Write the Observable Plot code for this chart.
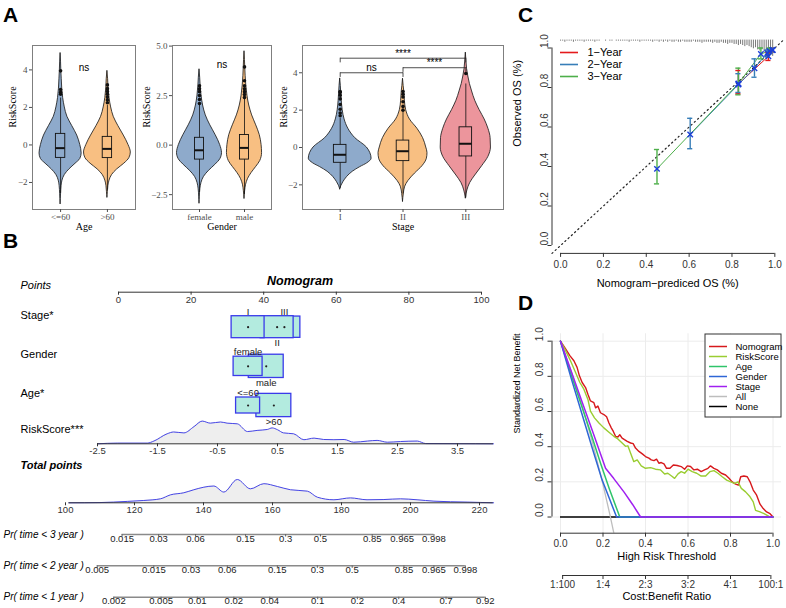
<!DOCTYPE html>
<html><head><meta charset="utf-8">
<script src="https://cdn.jsdelivr.net/npm/d3@7"></script>
<script src="https://cdn.jsdelivr.net/npm/@observablehq/plot@0.6"></script>
<style>
html,body{margin:0;padding:0;background:#fff;}
#fig{position:relative;width:786px;height:608px;overflow:hidden;background:#fff;font-family:"Liberation Sans",Arial,sans-serif;}
.tag{position:absolute;font:bold 21px/21px "Liberation Sans",Arial,sans-serif;color:#000;}
</style></head>
<body><div id="fig"></div>
<script>
// ---------- Panel A: RiskScore by clinical group ----------
const ageLevels = ["<=60", ">60"];
const genderLevels = ["female", "male"];
const stageLevels = ["I", "II", "III"];
const groupColors = ["#8eaacb", "#f8bf82", "#ec959c"];

// violin outlines: [RiskScore, relative density]
const ageShapes = {
  "<=60": [[4.9,0],[4.4,0.02],[4.0,0.03],[3.5,0.05],[3.0,0.07],[2.5,0.11],[2.0,0.18],[1.5,0.29],[1.0,0.50],[0.5,0.71],[0.0,0.84],[-0.45,0.90],[-0.75,0.84],[-1.0,0.64],[-1.3,0.38],[-1.6,0.18],[-1.9,0.08],[-2.2,0.04],[-2.6,0.02],[-3.15,0]],
  ">60": [[3.95,0],[3.5,0.03],[3.0,0.05],[2.5,0.09],[2.0,0.16],[1.5,0.27],[1.0,0.47],[0.5,0.70],[0.0,0.90],[-0.4,1.0],[-0.7,0.94],[-1.0,0.72],[-1.3,0.42],[-1.6,0.20],[-1.9,0.09],[-2.2,0.04],[-2.5,0.02],[-2.8,0]]
};
const genderShapes = {
  "female": [[3.83,0],[3.4,0.03],[3.0,0.05],[2.5,0.09],[2.0,0.16],[1.5,0.28],[1.0,0.48],[0.5,0.72],[0.0,0.92],[-0.4,1.0],[-0.7,0.93],[-1.0,0.70],[-1.3,0.42],[-1.6,0.20],[-1.9,0.09],[-2.2,0.04],[-2.6,0.015],[-2.94,0]],
  "male": [[4.74,0],[4.3,0.02],[4.0,0.03],[3.5,0.05],[3.0,0.08],[2.5,0.13],[2.0,0.21],[1.5,0.34],[1.0,0.52],[0.5,0.68],[0.0,0.76],[-0.4,0.78],[-0.8,0.70],[-1.1,0.52],[-1.4,0.32],[-1.7,0.16],[-2.0,0.07],[-2.3,0.03],[-2.7,0]]
};
const stageShapes = {
  "I": [[3.7,0],[3.3,0.02],[3.0,0.03],[2.5,0.05],[2.0,0.08],[1.5,0.14],[1.0,0.26],[0.5,0.48],[0.0,0.85],[-0.3,0.96],[-0.6,1.0],[-0.85,0.86],[-1.05,0.64],[-1.3,0.40],[-1.58,0.22],[-1.86,0.10],[-2.05,0.04],[-2.24,0]],
  "II": [[3.68,0],[3.3,0.02],[3.0,0.04],[2.5,0.06],[2.0,0.10],[1.5,0.22],[1.0,0.46],[0.5,0.64],[0.0,0.74],[-0.3,0.78],[-0.6,0.76],[-1.0,0.62],[-1.4,0.38],[-1.8,0.17],[-2.1,0.07],[-2.5,0.025],[-2.9,0]],
  "III": [[5.08,0],[4.6,0.02],[4.2,0.04],[3.8,0.08],[3.4,0.13],[3.0,0.20],[2.5,0.30],[2.0,0.44],[1.5,0.60],[1.0,0.72],[0.5,0.79],[0.0,0.80],[-0.5,0.72],[-1.0,0.52],[-1.5,0.30],[-1.9,0.14],[-2.3,0.05],[-2.72,0]]
};
const ageBoxes = [
  {level: "<=60", low: -2.6, q1: -0.69, median: -0.17, q3: 0.59, high: 2.5},
  {level: ">60", low: -2.4, q1: -0.70, median: -0.21, q3: 0.43, high: 2.1}
];
const genderBoxes = [
  {level: "female", low: -2.4, q1: -0.73, median: -0.26, q3: 0.37, high: 2.0},
  {level: "male", low: -2.5, q1: -0.73, median: -0.14, q3: 0.51, high: 2.3}
];
const stageBoxes = [
  {level: "I", low: -2.2, q1: -0.82, median: -0.39, q3: 0.14, high: 1.55},
  {level: "II", low: -2.5, q1: -0.73, median: -0.20, q3: 0.37, high: 1.9},
  {level: "III", low: -2.7, q1: -0.48, median: 0.20, q3: 1.08, high: 3.4}
];
const ageOutliers = {"<=60": [2.7, 2.8, 2.95, 3.95], ">60": [2.25, 2.4, 2.55, 2.7, 2.85, 3.0, 3.2]};
const genderOutliers = {"female": [2.1, 2.3, 2.5, 2.7, 2.85, 3.0], "male": [2.4, 2.55, 2.7, 2.85, 3.0, 3.25, 3.95]};
const stageOutliers = {"I": [1.7, 1.85, 2.05, 2.3, 2.6, 2.8, 2.95, 3.0], "II": [2.0, 2.2, 2.45, 2.7, 2.85, 3.0], "III": [3.96]};
const ageTest = [{label: "ns", y: 4.1}];
const genderTest = [{label: "ns", y: 4.08}];
const stageTests = [
  {from: "I", to: "II", y: 4.0, label: "ns"},
  {from: "II", to: "III", y: 4.27, label: "****"},
  {from: "I", to: "III", y: 4.78, label: "****"}
];

// ---------- Panel B: nomogram ----------
const pointTicks = [0, 20, 40, 60, 80, 100];
const nomoFactors = ["Stage*", "Gender", "Age*"];
// [factor, level, points, patients]
const nomoLevels = [
  ["Stage*", "I", 35.7, 330], ["Stage*", "II", 43.7, 330], ["Stage*", "III", 45.7, 310],
  ["Gender", "female", 35.7, 255], ["Gender", "male", 40.7, 370],
  ["Age*", "<=60", 35.7, 175], ["Age*", ">60", 42.8, 370]
];
const riskTicks = [-2.5, -1.5, -0.5, 0.5, 1.5, 2.5, 3.5];
const riskRange = [-2.5, 4.1];
// [RiskScore, relative density]
const riskDensity = [[-2.5,0],[-2.17,3],[-1.67,3],[-1.56,12],[-1.34,44],[-1.23,52],[-1.06,48],[-0.89,76],[-0.755,100],[-0.62,91],[-0.45,96],[-0.34,91],[-0.17,88],[0,54],[0.16,59],[0.33,63],[0.41,70],[0.5,62],[0.6,48],[0.77,44],[0.94,18],[1.11,25],[1.27,19],[1.44,18],[1.61,19],[1.77,7],[2.0,12],[2.16,15],[2.33,7],[2.55,10],[2.83,12],[2.97,1],[3.5,0.5],[4.1,0]];
const totalTicks = [100, 120, 140, 160, 180, 200, 220];
const totalRange = [101, 224];
// [total points, relative density]
const totalDensity = [[101,0],[110,1],[117.9,6],[122.7,10],[127.5,17],[130.4,34],[134.3,43],[137.2,56],[140.1,67],[143,72],[145.9,46],[149.8,100],[153.6,60],[157.5,82],[161.4,70],[165.2,56],[170.1,50],[173,24],[177.8,13],[182.6,21],[187.4,13],[192.3,14],[197.1,17],[201.9,13],[206.8,7],[216.4,3],[224.1,0]];
const survivalRows = ["Pr( time < 3 year )", "Pr( time < 2 year )", "Pr( time < 1 year )"];
// [probability, total points]
const pr3Year = [[0.015,116.4],[0.03,127.0],[0.06,137.7],[0.15,152.2],[0.3,163.8],[0.5,173.9],[0.85,188.9],[0.965,197.6],[0.998,206.8]];
const pr2Year = [[0.005,109.2],[0.015,125.6],[0.03,136.4],[0.06,146.9],[0.15,161.4],[0.3,173.0],[0.5,183.1],[0.85,198.1],[0.965,206.8],[0.998,215.9]];
const pr1Year = [[0.002,114.0],[0.005,127.7],[0.01,138.2],[0.02,148.8],[0.04,159.2],[0.1,173.1],[0.2,184.6],[0.4,196.6],[0.7,210.3],[0.92,221.7]];

// ---------- Panel C: calibration ----------
const calTicks = [0, 0.2, 0.4, 0.6, 0.8, 1.0];
const calYears = ["1\u2212Year", "2\u2212Year", "3\u2212Year"];
const calColors = ["#e41a1c", "#377eb8", "#4daf4a"];
// [predicted, observed, lower, upper]
const cal1Year = [[0.83,0.818,0.768,0.886],[0.97,0.958,0.937,0.976],[0.99,0.99,0.98,1.0]];
const cal2Year = [[0.605,0.562,0.49,0.644],[0.83,0.815,0.775,0.87],[0.905,0.898,0.852,0.945],[0.965,0.975,0.955,0.99],[0.99,0.99,0.98,1.0]];
const cal3Year = [[0.45,0.388,0.312,0.486],[0.83,0.82,0.763,0.898],[0.935,0.97,0.945,1.0],[0.975,0.985,0.97,1.0]];
// patients per 0.01 bin of predicted survival, from 0.00 to 0.99
const predCounts = [1,1,2,1,1,1,2,1,1,1, 1,2,1,1,1,1,2,1,1,0, 0,1,0,1,1,0,1,1,1,1, 1,1,2,1,1,1,1,2,1,1,
  1,1,1,2,1,1,2,1,2,1, 2,1,2,2,1,2,2,1,2,2, 2,2,1,2,2,2,3,2,2,2, 2,3,2,3,3,2,3,3,4,3,
  3,4,4,5,4,5,6,5,6,7, 8,7,9,10,9,11,12,13,14,15];

// ---------- Panel D: decision curves ----------
const dcaModels = ["Nomogram", "RiskScore", "Age", "Gender", "Stage", "All", "None"];
const dcaColors = ["#d7191c", "#9acd32", "#2fc46a", "#2f66d6", "#a020f0", "#bdbdbd", "#000000"];
const nbTicks = [0, 0.2, 0.4, 0.6, 0.8, 1.0];
// [threshold, standardized net benefit]
const nbNomogram = [[0,1],[0.024,0.956],[0.044,0.918],[0.063,0.889],[0.078,0.851],[0.089,0.803],[0.102,0.765],[0.118,0.736],[0.129,0.698],[0.141,0.66],[0.157,0.65],[0.165,0.621],[0.176,0.631],[0.188,0.593],[0.204,0.583],[0.217,0.57],[0.228,0.535],[0.239,0.507],[0.248,0.488],[0.259,0.459],[0.27,0.455],[0.279,0.468],[0.29,0.449],[0.301,0.44],[0.314,0.43],[0.33,0.421],[0.342,0.417],[0.353,0.392],[0.369,0.373],[0.385,0.359],[0.4,0.344],[0.416,0.335],[0.427,0.325],[0.44,0.321],[0.452,0.329],[0.463,0.306],[0.474,0.31],[0.487,0.302],[0.499,0.277],[0.515,0.277],[0.531,0.296],[0.549,0.293],[0.568,0.287],[0.584,0.272],[0.597,0.291],[0.612,0.287],[0.628,0.268],[0.644,0.272],[0.662,0.258],[0.678,0.268],[0.694,0.277],[0.706,0.291],[0.722,0.277],[0.738,0.268],[0.757,0.249],[0.777,0.239],[0.793,0.22],[0.808,0.2],[0.824,0.187],[0.837,0.182],[0.848,0.229],[0.863,0.233],[0.879,0.229],[0.892,0.2],[0.907,0.153],[0.923,0.124],[0.939,0.073],[0.954,0.048],[0.97,0.029],[0.986,0.019],[1.0,0]];
const nbRiskScore = [[0,1],[0.024,0.946],[0.047,0.889],[0.071,0.822],[0.091,0.765],[0.11,0.727],[0.129,0.669],[0.141,0.602],[0.16,0.564],[0.181,0.535],[0.204,0.507],[0.228,0.482],[0.251,0.459],[0.27,0.444],[0.29,0.421],[0.306,0.402],[0.317,0.405],[0.33,0.363],[0.345,0.315],[0.361,0.325],[0.38,0.291],[0.4,0.277],[0.424,0.281],[0.447,0.272],[0.471,0.268],[0.49,0.245],[0.505,0.249],[0.521,0.235],[0.537,0.22],[0.553,0.245],[0.568,0.258],[0.584,0.249],[0.6,0.272],[0.62,0.258],[0.641,0.249],[0.662,0.233],[0.683,0.233],[0.703,0.258],[0.722,0.264],[0.741,0.249],[0.761,0.229],[0.782,0.21],[0.801,0.2],[0.819,0.191],[0.835,0.2],[0.851,0.163],[0.871,0.143],[0.892,0.115],[0.907,0.086],[0.918,0.038],[0.939,0.029],[0.958,0.019],[0.981,0.004],[1.0,0]];
const nbAge = [[0,1],[0.05,0.81],[0.1,0.63],[0.15,0.45],[0.19,0.30],[0.23,0.16],[0.279,0],[1.0,0]];
const nbGender = [[0,1],[0.05,0.79],[0.1,0.59],[0.15,0.39],[0.196,0.21],[0.23,0.105],[0.264,0],[1.0,0]];
const nbStage = [[0,1],[0.05,0.83],[0.1,0.66],[0.15,0.49],[0.212,0.277],[0.25,0.22],[0.3,0.14],[0.34,0.07],[0.377,0],[1.0,0]];
const nbAll = [[0,1],[0.05,0.829],[0.1,0.638],[0.15,0.426],[0.2,0.186],[0.235,0],[0.26,-0.143]];
const ratioTicks = [0.01, 0.2, 0.4, 0.6, 0.8, 0.99];
const ratioLabels = ["1:100", "1:4", "2:3", "3:2", "4:1", "100:1"];

// ---------- layout helpers ----------
const SANS = "Liberation Sans, Arial, sans-serif";
const SERIF = "Liberation Serif, Times New Roman, serif";
const fig = document.getElementById("fig");
const base = {background: "transparent", overflow: "visible"};
function place(node, left, top) {
  node.style.position = "absolute";
  node.style.left = left + "px";
  node.style.top = top + "px";
  fig.appendChild(node);
}
function tag(letter, left, top) {
  const d = document.createElement("div");
  d.className = "tag";
  d.textContent = letter;
  d.style.left = left + "px";
  d.style.top = top + "px";
  fig.appendChild(d);
}

// ---------- violin + box panels ----------
function violinPanel({levels, shapes, boxes, outliers, yDomain, yTicks, yFormat, xTitle, titleDx, width, marginRight, extra}) {
  const pos = (l) => levels.indexOf(l) + 1;
  const shape = Object.entries(shapes)
    .flatMap(([level, pts]) => pts.map(([v, d]) => ({level, v, d})))
    .sort((a, b) => d3.ascending(pos(a.level), pos(b.level)) || d3.ascending(a.v, b.v));
  const dots = Object.entries(outliers).flatMap(([level, vs]) => vs.map((v) => ({level, v})));
  return Plot.plot({
    width, height: 200, marginLeft: 32, marginRight, marginTop: 10, marginBottom: 26,
    style: {...base, fontFamily: SERIF, fontSize: "9px"},
    x: {domain: [0.4, levels.length + 0.6], axis: null},
    y: {domain: yDomain, axis: null},
    color: {domain: levels, range: groupColors.slice(0, levels.length)},
    marks: [
      Plot.areaX(shape, {y: "v", x1: (d) => pos(d.level) - 0.5 * d.d, x2: (d) => pos(d.level) + 0.5 * d.d,
        z: "level", fill: "level", stroke: "#111", strokeWidth: 0.8, curve: "monotone-y"}),
      Plot.ruleX(boxes, {x: (b) => pos(b.level), y1: "low", y2: "high", stroke: "#111", strokeWidth: 0.8}),
      Plot.rect(boxes, {x1: (b) => pos(b.level) - 0.1, x2: (b) => pos(b.level) + 0.1, y1: "q1", y2: "q3",
        fill: "level", stroke: "#111", strokeWidth: 0.9}),
      Plot.ruleY(boxes, {y: "median", x1: (b) => pos(b.level) - 0.1, x2: (b) => pos(b.level) + 0.1, stroke: "#111", strokeWidth: 2}),
      Plot.dot(dots, {x: (d) => pos(d.level), y: "v", r: 1.8, fill: "#111"}),
      ...extra(pos),
      Plot.frame({stroke: "#7f7f7f"}),
      Plot.axisX({ticks: levels.map((_, i) => i + 1), tickFormat: (i) => levels[i - 1], tickSize: 3, tickPadding: 1.5,
        color: "#4d4d4d", fontSize: 9, fontFamily: SERIF, label: null}),
      Plot.axisY({ticks: yTicks, tickFormat: yFormat, tickSize: 3, tickPadding: 2,
        color: "#4d4d4d", fontSize: 9, fontFamily: SERIF, label: null}),
      Plot.text([xTitle], {frameAnchor: "bottom", dy: 20.5, fontSize: 10, fontFamily: SERIF}),
      Plot.text(["RiskScore"], {frameAnchor: "left", rotate: -90, dx: titleDx, fontSize: 10, fontFamily: SERIF})
    ]
  });
}
const nsLabel = (tests) => () => [
  Plot.text(tests, {x: 1.5, y: "y", text: "label", fontFamily: SANS, fontSize: 10})
];

place(violinPanel({
  levels: ageLevels, shapes: ageShapes, boxes: ageBoxes, outliers: ageOutliers,
  yDomain: [-3.44, 5.3], yTicks: [-2, 0, 2, 4], yFormat: undefined, xTitle: "Age",
  titleDx: -19.7, width: 140, marginRight: 5, extra: nsLabel(ageTest)
}), 0, 35);

place(violinPanel({
  levels: genderLevels, shapes: genderShapes, boxes: genderBoxes, outliers: genderOutliers,
  yDomain: [-3.25, 5.03], yTicks: [-2.5, 0, 2.5, 5], yFormat: d3.format(".1f"), xTitle: "Gender",
  titleDx: -25.3, width: 135, marginRight: 4, extra: nsLabel(genderTest)
}), 140, 35);

place(violinPanel({
  levels: stageLevels, shapes: stageShapes, boxes: stageBoxes, outliers: stageOutliers,
  yDomain: [-3.32, 5.46], yTicks: [-2, 0, 2, 4], yFormat: undefined, xTitle: "Stage",
  titleDx: -18.7, width: 240, marginRight: 7,
  extra: (pos) => {
    const tips = stageTests.flatMap((t) => [{x: pos(t.from), y: t.y}, {x: pos(t.to), y: t.y}]);
    return [
      Plot.link(stageTests, {x1: (t) => pos(t.from), x2: (t) => pos(t.to), y1: "y", y2: "y", stroke: "#222", strokeWidth: 0.8}),
      Plot.ruleX(tips, {x: "x", y1: (d) => d.y - 0.25, y2: "y", stroke: "#222", strokeWidth: 0.8}),
      Plot.text(stageTests, {x: (t) => (pos(t.from) + pos(t.to)) / 2, y: "y", text: "label", lineAnchor: "bottom",
        dy: -1.5, fontFamily: SANS, fontSize: 10})
    ];
  }
}), 270, 35);

// ---------- Panel B: nomogram rows ----------
const ptsX = {domain: [0, 100], range: [118, 481], axis: null};
const totX = {domain: [100, 220], range: [65, 479], axis: null};

// points scale
place(Plot.plot({
  width: 520, height: 40, marginLeft: 0, marginRight: 0, marginTop: 0, marginBottom: 18.3,
  style: {...base, fontFamily: SANS, fontSize: "9.5px"},
  x: ptsX, y: {domain: [0, 1], axis: null},
  marks: [
    Plot.ruleY([0], {x1: 0, x2: 100, stroke: "#333"}),
    Plot.axisX({ticks: pointTicks, tickSize: 3, tickPadding: 1.5, fontSize: 9.5, color: "#333", label: null}),
    Plot.text(["Nomogram"], {x: 50, y: 0, dy: -11.7, fontWeight: "bold", fontStyle: "italic", fontSize: 12.5}),
    Plot.text(["Points"], {frameAnchor: "bottom-left", dx: 20, dy: -3.7, textAnchor: "start", fontStyle: "italic", fontSize: 11})
  ]
}), 0, 270);

// factor rows: boxes sized by the number of patients in each level
const boxUnit = 0.25;
const rowUnit = 0.0618;
const levelBoxes = nomoLevels.map(([factor, level, points, n]) => {
  const row = nomoFactors.indexOf(factor);
  const k = nomoLevels.filter((l) => l[0] === factor).findIndex((l) => l[1] === level);
  const hw = boxUnit * Math.sqrt(n);
  return {factor, level, points, row, hw, hh: hw * rowUnit, above: k % 2 === 0};
});
place(Plot.plot({
  width: 520, height: 130, margin: 0,
  style: {...base, fontFamily: SANS, fontSize: "9.5px"},
  x: ptsX, y: {domain: [0, 2], range: [26.7, 105], axis: null},
  marks: [
    Plot.rect(levelBoxes.slice().reverse(), {x1: (d) => d.points - d.hw, x2: (d) => d.points + d.hw,
      y1: (d) => d.row - d.hh, y2: (d) => d.row + d.hh, fill: "#b3ebdf", stroke: "#3a3aea", strokeWidth: 1.3}),
    Plot.dot(levelBoxes, {x: "points", y: "row", r: 1.1, fill: "#222"}),
    Plot.text(levelBoxes.filter((d) => d.above), {x: "points", y: (d) => d.row - d.hh, text: "level", lineAnchor: "bottom", dy: -1.5, fill: "#222"}),
    Plot.text(levelBoxes.filter((d) => !d.above), {x: "points", y: (d) => d.row + d.hh, text: "level", lineAnchor: "top", dy: 1, fill: "#222"}),
    Plot.text(nomoFactors, {y: (d, i) => i, frameAnchor: "left", dx: 20, dy: -12, textAnchor: "start", fontSize: 11})
  ]
}), 0, 300);

// RiskScore row
const riskRows = riskDensity.map(([v, d]) => ({v, d}));
place(Plot.plot({
  width: 520, height: 45, marginLeft: 0, marginRight: 0, marginTop: 0, marginBottom: 16.7,
  style: {...base, fontFamily: SANS, fontSize: "9.5px"},
  x: {domain: [-2.5, 3.5], range: [97, 457], axis: null}, y: {domain: [0, 100], range: [28.3, 5.6], axis: null},
  marks: [
    Plot.areaY(riskRows, {x: "v", y: "d", fill: "#eeeeee", curve: "monotone-x"}),
    Plot.lineY(riskRows, {x: "v", y: "d", stroke: "#4545e6", strokeWidth: 1, curve: "monotone-x"}),
    Plot.ruleY([0], {x1: riskRange[0], x2: riskRange[1], stroke: "#333"}),
    Plot.axisX({ticks: riskTicks, tickFormat: (d) => String(d), tickSize: 3, tickPadding: 0, fontSize: 9.5, color: "#333", label: null}),
    Plot.text(["RiskScore***"], {frameAnchor: "bottom-left", dx: 20, dy: -11, textAnchor: "start", fontSize: 11})
  ]
}), 0, 415);

// Total points row
const totalRows = totalDensity.map(([t, d]) => ({t, d}));
place(Plot.plot({
  width: 520, height: 60, marginLeft: 0, marginRight: 0, marginTop: 0, marginBottom: 12.7,
  style: {...base, fontFamily: SANS, fontSize: "9.5px"},
  x: totX, y: {domain: [0, 100], range: [47.3, 24], axis: null},
  marks: [
    Plot.areaY(totalRows, {x: "t", y: "d", fill: "#eeeeee", curve: "monotone-x"}),
    Plot.lineY(totalRows, {x: "t", y: "d", stroke: "#4545e6", strokeWidth: 1, curve: "monotone-x"}),
    Plot.ruleY([0], {x1: totalRange[0], x2: totalRange[1], stroke: "#333"}),
    Plot.axisX({ticks: totalTicks, tickSize: 3, tickPadding: 0, fontSize: 9.5, color: "#333", label: null}),
    Plot.text(["Total points"], {frameAnchor: "bottom-left", dx: 20, dy: -34.3, textAnchor: "start",
      fontWeight: "bold", fontStyle: "italic", fontSize: 11})
  ]
}), 0, 455);

// survival probability rows
const prScales = [pr3Year, pr2Year, pr1Year];
const prTicks = prScales.flatMap((arr, row) => arr.map(([p, t]) => ({row, p, t})));
const prLines = prScales.map((arr, row) => ({row, from: arr[0][1], to: arr[arr.length - 1][1]}));
place(Plot.plot({
  width: 520, height: 93, margin: 0,
  style: {...base, fontFamily: SANS, fontSize: "9.5px"},
  x: totX, y: {domain: [0, 2], range: [19, 81.7], axis: null},
  marks: [
    Plot.ruleY(prLines, {y: "row", x1: "from", x2: "to", stroke: "#8a8a8a", strokeWidth: 1.5}),
    Plot.ruleX(prTicks, {x: "t", y1: "row", y2: (d) => d.row + 0.08, stroke: "#666"}),
    Plot.text(prTicks, {x: "t", y: "row", text: (d) => String(d.p), dy: 4, fill: "#222"}),
    Plot.text(survivalRows, {y: (d, i) => i, frameAnchor: "left", dx: 3, textAnchor: "start", fontStyle: "italic", fontSize: 10})
  ]
}), 0, 515);

// ---------- Panel C: calibration curves ----------
const calSeries = [cal1Year, cal2Year, cal3Year].flatMap((arr, k) =>
  arr.map(([pred, obs, lo, hi]) => ({year: calYears[k], pred, obs, lo, hi})));
const rugBins = predCounts.map((n, i) => ({x: i / 100, n}));
place(Plot.plot({
  width: 276, height: 300, marginLeft: 41.5, marginRight: 3.1, marginTop: 39.6, marginBottom: 47.1,
  style: {...base, fontFamily: SANS, fontSize: "10px"},
  x: {domain: [-0.04, 1.04], axis: null}, y: {domain: [-0.04, 1.04], axis: null},
  color: {domain: calYears, range: calColors},
  marks: [
    Plot.ruleX(rugBins, {x: "x", y1: 1.04, y2: (d) => 1.04 - 0.0055 * d.n, stroke: "#555", strokeWidth: 0.8}),
    Plot.line([-0.04, 1.04], {x: (d) => d, y: (d) => d, stroke: "#222", strokeWidth: 1.2, strokeDasharray: "1.2,3.2"}),
    Plot.line(calSeries, {x: "pred", y: "obs", z: "year", stroke: "year", strokeWidth: 1}),
    Plot.ruleX(calSeries, {x: "pred", y1: "lo", y2: "hi", stroke: "year", strokeWidth: 1.4}),
    Plot.ruleY(calSeries, {y: "lo", x1: (d) => d.pred - 0.012, x2: (d) => d.pred + 0.012, stroke: "year", strokeWidth: 1.4}),
    Plot.ruleY(calSeries, {y: "hi", x1: (d) => d.pred - 0.012, x2: (d) => d.pred + 0.012, stroke: "year", strokeWidth: 1.4}),
    Plot.dot(calSeries, {x: "pred", y: "obs", symbol: "times", r: 2.6, stroke: "#1c3fd8", strokeWidth: 1.4}),
    Plot.ruleY([-0.04], {x1: 0, x2: 1, stroke: "#333"}),
    Plot.ruleX([-0.04], {y1: 0, y2: 1, stroke: "#333"}),
    Plot.axisX({ticks: calTicks, tickFormat: d3.format(".1f"), tickSize: 4, tickPadding: 3, fontSize: 10, color: "#333", label: null}),
    Plot.axisY({ticks: calTicks, tickFormat: () => "", tickSize: 4, color: "#333", label: null}),
    Plot.text(calTicks, {y: (d) => d, text: d3.format(".1f"), frameAnchor: "left", rotate: -90, dx: -4, lineAnchor: "bottom", fontSize: 10, fill: "#333"}),
    Plot.text(["Nomogram\u2212prediced OS (%)"], {frameAnchor: "bottom", dy: 33.5, fontSize: 11}),
    Plot.text(["Observed OS (%)"], {frameAnchor: "left", rotate: -90, dx: -34.7, fontSize: 11})
  ]
}), 510, 0);

place(Plot.plot({
  width: 90, height: 42, margin: 0,
  style: {...base, fontFamily: SANS, fontSize: "11px"},
  x: {domain: [0, 1], range: [5, 23], axis: null},
  y: {type: "point", domain: calYears, range: [9.7, 34], padding: 0, axis: null},
  color: {domain: calYears, range: calColors},
  marks: [
    Plot.ruleY(calYears, {y: (d) => d, x1: 0, x2: 1, stroke: (d) => d, strokeWidth: 1.6}),
    Plot.text(calYears, {x: 1, y: (d) => d, dx: 9, textAnchor: "start", fontSize: 11})
  ]
}), 555, 42);

// ---------- Panel D: decision curve analysis ----------
const toRows = (arr) => arr.map(([t, nb]) => ({t, nb}));
const dcaColor = (m) => dcaColors[dcaModels.indexOf(m)];
place(Plot.plot({
  width: 276, height: 250, marginLeft: 41.5, marginRight: 5, marginTop: 13.3, marginBottom: 37.3,
  style: {...base, fontFamily: SANS, fontSize: "10px"},
  x: {domain: [-0.04, 1.04], axis: null}, y: {domain: [-0.092, 1.042], axis: null},
  marks: [
    Plot.ruleX(nbTicks, {x: (d) => d, stroke: "#ececec"}),
    Plot.ruleY(nbTicks, {y: (d) => d, stroke: "#ececec"}),
    Plot.ruleY([0], {x1: 0, x2: 1, stroke: dcaColor("None"), strokeWidth: 1.3}),
    Plot.line(toRows(nbAll), {x: "t", y: "nb", stroke: dcaColor("All"), strokeWidth: 1.3, clip: true}),
    Plot.line(toRows(nbNomogram), {x: "t", y: "nb", stroke: dcaColor("Nomogram"), strokeWidth: 1.4}),
    Plot.line(toRows(nbRiskScore), {x: "t", y: "nb", stroke: dcaColor("RiskScore"), strokeWidth: 1.4}),
    Plot.line(toRows(nbAge), {x: "t", y: "nb", stroke: dcaColor("Age"), strokeWidth: 1.5}),
    Plot.line(toRows(nbGender), {x: "t", y: "nb", stroke: dcaColor("Gender"), strokeWidth: 1.5}),
    Plot.line(toRows(nbStage), {x: "t", y: "nb", stroke: dcaColor("Stage"), strokeWidth: 1.5}),
    Plot.ruleY([-0.092], {x1: 0, x2: 1, stroke: "#333"}),
    Plot.ruleX([-0.04], {y1: 0, y2: 1, stroke: "#333"}),
    Plot.axisX({ticks: nbTicks, tickFormat: d3.format(".1f"), tickSize: 4, tickPadding: 3, fontSize: 10, color: "#333", label: null}),
    Plot.axisY({ticks: nbTicks, tickFormat: () => "", tickSize: 4, color: "#333", label: null}),
    Plot.text(nbTicks, {y: (d) => d, text: d3.format(".1f"), frameAnchor: "left", rotate: -90, dx: -8.6, lineAnchor: "bottom", fontSize: 10, fill: "#333"}),
    Plot.text(["High Risk Threshold"], {frameAnchor: "bottom", dy: 26.3, fontSize: 11}),
    Plot.text(["Standardized Net Benefit"], {frameAnchor: "left", rotate: -90, dx: -34.5, fontSize: 9})
  ]
}), 510, 320);

// cost:benefit ratio axis under the threshold axis
place(Plot.plot({
  width: 276, height: 43, marginLeft: 41.5, marginRight: 5, marginTop: 0, marginBottom: 33,
  style: {...base, fontFamily: SANS, fontSize: "10px"},
  x: {domain: [-0.04, 1.04], axis: null}, y: {domain: [0, 1], axis: null},
  marks: [
    Plot.ruleY([0], {x1: ratioTicks[0], x2: ratioTicks[ratioTicks.length - 1], stroke: "#333"}),
    Plot.axisX({ticks: ratioTicks, tickFormat: (d) => ratioLabels[ratioTicks.indexOf(d)], tickSize: 4, tickPadding: 1.5,
      fontSize: 10, color: "#333", label: null}),
    Plot.text(["Cost:Benefit Ratio"], {frameAnchor: "bottom", dy: 24.5, fontSize: 11})
  ]
}), 510, 565);

place(Plot.plot({
  width: 77, height: 84, margin: 0.5,
  style: {...base, fontFamily: SANS, fontSize: "9.5px"},
  x: {domain: [0, 1], range: [5, 23], axis: null},
  y: {type: "point", domain: dcaModels, range: [12, 73.7], padding: 0, axis: null},
  color: {domain: dcaModels, range: dcaColors},
  marks: [
    Plot.frame({fill: "white", stroke: "#333"}),
    Plot.ruleY(dcaModels, {y: (d) => d, x1: 0, x2: 1, stroke: (d) => d, strokeWidth: 1.5}),
    Plot.text(dcaModels, {x: 1, y: (d) => d, dx: 8, textAnchor: "start", fontSize: 9.5})
  ]
}), 704, 333);

// panel tags
tag("A", 3, 4);
tag("B", 3, 230);
tag("C", 518, 4);
tag("D", 518, 292);
</script></body></html>
